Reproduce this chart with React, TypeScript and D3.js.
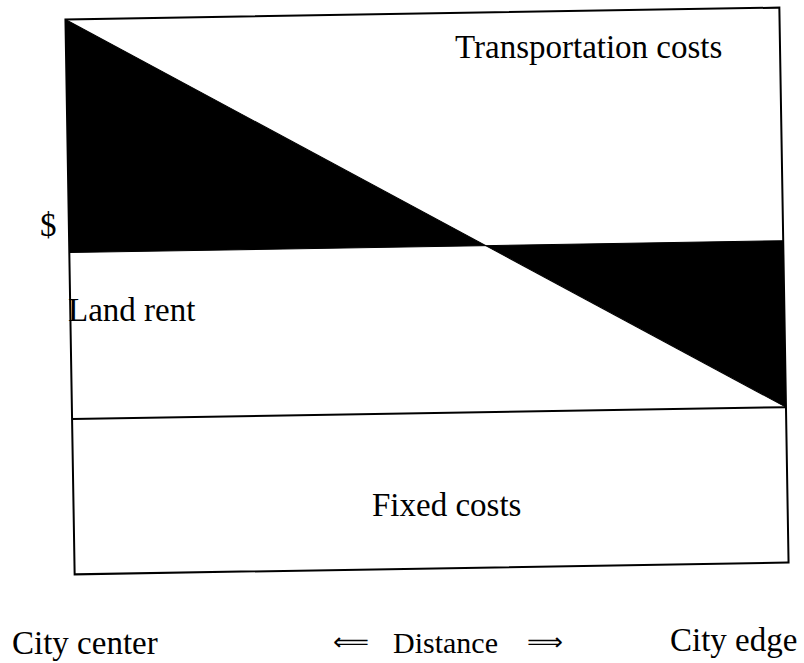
import React from "react";
import * as d3 from "d3";

// Data (schematic $ values along distance from city center (0) to city edge (1))
const distance = [0, 1];
const totalCost = [100, 28]; // fixed + land rent + transportation boundary
const landRentLevel = 58;
const fixedCostLevel = 28;
const yTop = 100;

const labels = {
  transport: "Transportation costs",
  land: "Land rent",
  fixed: "Fixed costs",
  dollar: "$",
  center: "City center",
  dist: "Distance",
  edge: "City edge",
};

const W = 804;
const H = 663;
const box = { left: 70, right: 784, top: 13.5, bottom: 568.5 };
const angle = -0.95;
const cx = 427;
const cy = 291;

export default function App() {
  const x = d3.scaleLinear().domain([0, 1]).range([box.left, box.right]);
  const y = d3.scaleLinear().domain([0, yTop]).range([box.bottom, box.top]);
  const pts = distance.map((d, i) => ({ d, v: totalCost[i] }));
  const area = d3
    .area<{ d: number; v: number }>()
    .x((p) => x(p.d))
    .y0(() => y(landRentLevel))
    .y1((p) => y(p.v));
  const line = d3
    .line<{ d: number; v: number }>()
    .x((p) => x(p.d))
    .y((p) => y(p.v));
  const font = "'Liberation Serif', 'Times New Roman', serif";
  return (
    <svg
      width={W}
      height={H}
      style={{ position: "absolute", left: 0, top: 0, background: "#fff" }}
    >
      <rect x={0} y={0} width={W} height={H} fill="#fff" />
      <g transform={`rotate(${angle} ${cx} ${cy})`}>
        <path d={area(pts) || ""} fill="#000" />
        <path d={line(pts) || ""} fill="none" stroke="#000" strokeWidth={1} />
        <line
          x1={x(0)}
          x2={x(1)}
          y1={y(landRentLevel)}
          y2={y(landRentLevel)}
          stroke="#000"
          strokeWidth={1}
        />
        <line
          x1={x(0)}
          x2={x(1)}
          y1={y(fixedCostLevel)}
          y2={y(fixedCostLevel)}
          stroke="#000"
          strokeWidth={2}
        />
        <rect
          x={x(0)}
          y={y(yTop)}
          width={x(1) - x(0)}
          height={y(0) - y(yTop)}
          fill="none"
          stroke="#000"
          strokeWidth={2}
        />
      </g>
      <g fontFamily={font} fill="#000" fontSize={33}>
        <text x={455} y={58}>{labels.transport}</text>
        <text x={40} y={236}>{labels.dollar}</text>
        <text x={68} y={321}>{labels.land}</text>
        <text x={372} y={516}>{labels.fixed}</text>
        <text x={12} y={654}>{labels.center}</text>
        <text
          x={333}
          y={650}
          fontFamily="'DejaVu Sans', sans-serif"
          fontSize={24}
          textLength={36}
          lengthAdjust="spacingAndGlyphs"
        >
          ⟸
        </text>
        <text x={393} y={653} fontSize={30}>{labels.dist}</text>
        <text
          x={527}
          y={650}
          fontFamily="'DejaVu Sans', sans-serif"
          fontSize={24}
          textLength={36}
          lengthAdjust="spacingAndGlyphs"
        >
          ⟹
        </text>
        <text x={670} y={651}>{labels.edge}</text>
      </g>
    </svg>
  );
}
